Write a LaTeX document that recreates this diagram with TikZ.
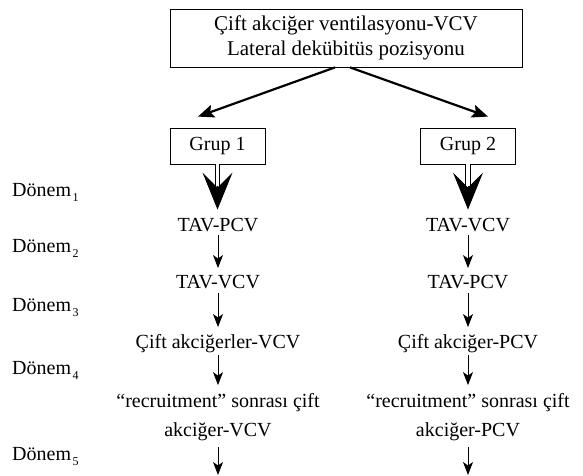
\documentclass[tikz,border=0pt]{standalone}
\usepackage{fontspec}
\setmainfont{Liberation Serif}
\usetikzlibrary{arrows.meta}
\newcommand{\dsub}[1]{\kern1.5pt\raisebox{-5pt}{\fontsize{12}{12}\selectfont #1}}
\begin{document}
\begin{tikzpicture}[x=1pt,y=-1pt,
  every node/.style={font=\fontsize{20}{26}\selectfont},
  boxnode/.style={draw, line width=0.8pt, inner sep=0pt, align=center},
  rowtext/.style={inner sep=0pt, text height=13.5pt, text depth=0pt},
  multitext/.style={inner sep=0pt, align=center, font=\fontsize{20}{29}\selectfont},
  dlabel/.style={inner sep=0pt, anchor=west, text height=13.5pt, text depth=0pt},
  thickarrow/.style={line width=2.2pt, -{Stealth[length=16pt,width=13pt,inset=3pt]}},
  thinarrow/.style={line width=0.9pt, -{Stealth[length=13pt,width=10pt,inset=3.5pt]}},
  dblshaft/.style={line width=1pt, double distance=3.4pt, shorten >=30pt},
  dblhead/.style={line width=0.9pt, shorten <=22pt, shorten >=8.5pt,
    -{Stealth[length=37pt,width=30pt,inset=15pt]}}
]
\useasboundingbox (0,0) rectangle (583,476);

% top box
\node[boxnode, minimum width=352pt, minimum height=58pt,
      font=\fontsize{21}{24.5}\selectfont] (top) at (346,38)
  {Çift akciğer ventilasyonu-VCV\\Lateral dekübitüs pozisyonu};

% group boxes
\node[boxnode, minimum width=95pt, minimum height=36pt] (g1) at (217.5,146) {Grup 1};
\node[boxnode, minimum width=95pt, minimum height=36pt] (g2) at (468,146) {Grup 2};

\draw[thickarrow] ([xshift=-11pt]top.south) -- ([xshift=-19.5pt,yshift=11pt]g1.north);
\draw[thickarrow] ([xshift=4pt]top.south) -- ([xshift=20pt,yshift=11pt]g2.north);

% period labels
\node[dlabel] (d1) at (12,190) {Dönem\dsub{1}};
\node[dlabel] (d2) at (12,246) {Dönem\dsub{2}};
\node[dlabel] (d3) at (12,305) {Dönem\dsub{3}};
\node[dlabel] (d4) at (12,368) {Dönem\dsub{4}};
\node[dlabel] (d5) at (12,454) {Dönem\dsub{5}};

% left column
\node[rowtext] (a1) at (218,225) {TAV-PCV};
\node[rowtext] (a2) at (218,282) {TAV-VCV};
\node[rowtext] (a3) at (218,342) {Çift akciğerler-VCV};
\node[multitext] (a4) at (218,417) {“recruitment” sonrası çift\\akciğer-VCV};
\coordinate (a5) at (218,475);

% right column
\node[rowtext] (b1) at (468,225) {TAV-VCV};
\node[rowtext] (b2) at (468,282) {TAV-PCV};
\node[rowtext] (b3) at (468,342) {Çift akciğer-PCV};
\node[multitext] (b4) at (468,417) {“recruitment” sonrası çift\\akciğer-PCV};
\coordinate (b5) at (468,475);

\draw[dblshaft] (g1.south) -- (g1.south |- a1.north);
\draw[dblhead] (g1.south) -- (g1.south |- a1.north);
\draw[dblshaft] (g2.south) -- (b1.north);
\draw[dblhead] (g2.south) -- (b1.north);

\draw[thinarrow, shorten <=3pt, shorten >=7pt] (a1.south) -- (a2.north);
\draw[thinarrow, shorten <=4pt, shorten >=8pt] (a2.south) -- (a3.north);
\draw[thinarrow, shorten <=6pt, shorten >=8pt] (a3.south) -- (a4.north);
\draw[thinarrow, shorten <=6pt] (a4.south) -- (a5);

\draw[thinarrow, shorten <=3pt, shorten >=7pt] (b1.south) -- (b2.north);
\draw[thinarrow, shorten <=4pt, shorten >=8pt] (b2.south) -- (b3.north);
\draw[thinarrow, shorten <=6pt, shorten >=8pt] (b3.south) -- (b4.north);
\draw[thinarrow, shorten <=6pt] (b4.south) -- (b5);
\end{tikzpicture}
\end{document}
